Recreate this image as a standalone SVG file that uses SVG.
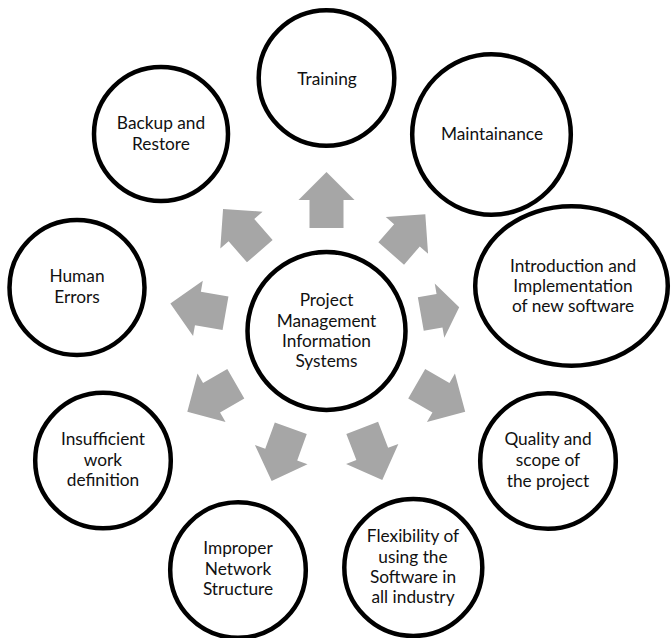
<svg xmlns="http://www.w3.org/2000/svg" xmlns:xlink="http://www.w3.org/1999/xlink" width="672" height="638" viewBox="0 0 672 638">
  <style>
    .node { fill: #ffffff; stroke: #000000; stroke-width: 4.5; }
    .lbl { font-family: Lato, "Open Sans", "Liberation Sans", sans-serif; font-size: 17.3px; fill: #111111; text-anchor: middle; }
    .arw { fill: #a6a6a6; stroke: none; }
  </style>
  <defs>
    <path id="arw" d="M0,-17 H28 V-28 L56,0 L28,28 V17 H0 Z"/>
  </defs>
  <rect width="672" height="638" fill="#ffffff"/>

  <g id="connectors">
    <use xlink:href="#arw" href="#arw" class="arw" transform="translate(326.5,228) rotate(-90)"/>
    <path class="arw" d="M0,-17 H24 V-28 L52,0 L24,28 V17 H0 Z" transform="translate(391.2,253.5) rotate(-49)"/>
    <path class="arw" d="M0,-17 H19 V-27.5 L39,0 L19,27.5 V17 H0 Z" transform="translate(420.8,314) rotate(-10)"/>
    <use xlink:href="#arw" href="#arw" class="arw" transform="translate(416.7,383.8) rotate(30)"/>
    <use xlink:href="#arw" href="#arw" class="arw" transform="translate(362.2,427.8) rotate(69)"/>
    <use xlink:href="#arw" href="#arw" class="arw" transform="translate(290.8,428.3) rotate(110)"/>
    <use xlink:href="#arw" href="#arw" class="arw" transform="translate(235.8,383.8) rotate(150)"/>
    <use xlink:href="#arw" href="#arw" class="arw" transform="translate(225.5,313.3) rotate(190)"/>
    <use xlink:href="#arw" href="#arw" class="arw" transform="translate(259.8,251.2) rotate(-131)"/>
  </g>

  <g id="center">
    <circle class="node" cx="326.5" cy="331" r="79"/>
    <text class="lbl" x="326.5" y="306">Project</text>
    <text class="lbl" x="326.5" y="327">Management</text>
    <text class="lbl" x="326.5" y="347">Information</text>
    <text class="lbl" x="326.5" y="367">Systems</text>
  </g>

  <g id="training">
    <circle class="node" cx="326.5" cy="78" r="67.8"/>
    <text class="lbl" x="327" y="84.5">Training</text>
  </g>

  <g id="maintainance">
    <ellipse class="node" cx="491.5" cy="134.5" rx="79.3" ry="80.3"/>
    <text class="lbl" x="492" y="140">Maintainance</text>
  </g>

  <g id="introduction">
    <ellipse class="node" cx="571.5" cy="286" rx="96.3" ry="79.8"/>
    <text class="lbl" x="573" y="272">Introduction and</text>
    <text class="lbl" x="573" y="292">Implementation</text>
    <text class="lbl" x="573" y="312">of new software</text>
  </g>

  <g id="quality">
    <circle class="node" cx="548" cy="461" r="67.8"/>
    <text class="lbl" x="548" y="445">Quality and</text>
    <text class="lbl" x="548" y="466">scope of</text>
    <text class="lbl" x="548" y="487">the project</text>
  </g>

  <g id="flexibility">
    <ellipse class="node" cx="413.3" cy="567.5" rx="69" ry="68.5"/>
    <text class="lbl" x="413" y="542">Flexibility of</text>
    <text class="lbl" x="413" y="563">using the</text>
    <text class="lbl" x="413" y="583">Software in</text>
    <text class="lbl" x="413" y="603">all industry</text>
  </g>

  <g id="improper">
    <circle class="node" cx="238" cy="570" r="67.8"/>
    <text class="lbl" x="238" y="554">Improper</text>
    <text class="lbl" x="238" y="575">Network</text>
    <text class="lbl" x="238" y="595">Structure</text>
  </g>

  <g id="insufficient">
    <circle class="node" cx="103" cy="460.5" r="67.8"/>
    <text class="lbl" x="103" y="445">Insufficient</text>
    <text class="lbl" x="103" y="465.5">work</text>
    <text class="lbl" x="103" y="486">definition</text>
  </g>

  <g id="human-errors">
    <circle class="node" cx="77" cy="287.5" r="67.5"/>
    <text class="lbl" x="77" y="282">Human</text>
    <text class="lbl" x="77" y="303">Errors</text>
  </g>

  <g id="backup">
    <circle class="node" cx="161" cy="134" r="67"/>
    <text class="lbl" x="161" y="129">Backup and</text>
    <text class="lbl" x="161" y="150">Restore</text>
  </g>
</svg>
